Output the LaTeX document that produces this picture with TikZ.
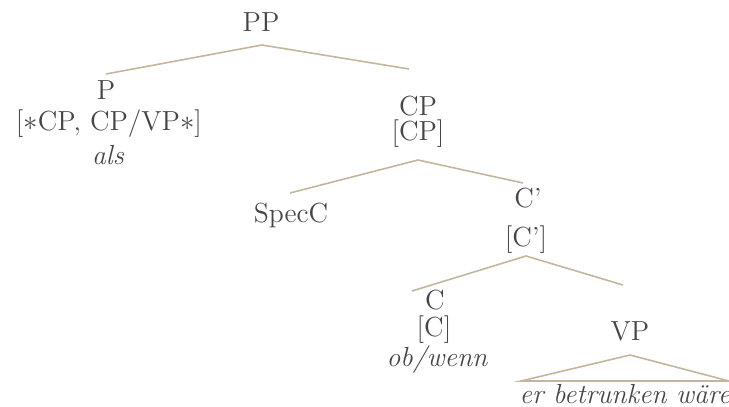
\documentclass[tikz,border=0pt]{standalone}
\usepackage{amsmath,amssymb}

\definecolor{branchcol}{RGB}{196,182,158}
\definecolor{labelcol}{RGB}{70,70,70}

\begin{document}
\begin{tikzpicture}[x=0.5pt,y=-0.5pt,
        lab/.style={text=labelcol,inner sep=1pt,font=\fontsize{13.8}{16}\selectfont},
        branch/.style={draw=branchcol,line width=0.8pt}]
        \useasboundingbox (0,0) rectangle (729,407);

            \node[lab] (pp) at (261,22) {PP};
            \coordinate (pptop) at (262,45);
            \coordinate (ppl) at (106,74);
            \coordinate (ppr) at (409,69);

            \node[lab] (p) at (106,90) {P};
            \node[lab] (psub) at (109,124) {[$\ast$CP, CP/VP$\ast$]};
            \node[lab] (pword) at (108,155) {\itshape als};

            \node[lab] (cp) at (418,106) {CP};
            \node[lab] (cpf) at (418,134) {[CP]};
            \coordinate (cptop) at (418,160);
            \coordinate (cpl) at (290,193);
            \coordinate (cpr) at (523,183);

            \node[lab] (spec) at (291,215) {SpecC};

            \node[lab] (cbar) at (528,198) {C'};
            \node[lab] (cbarf) at (526,240) {[C']};
            \coordinate (cbartop) at (526,256);
            \coordinate (cbarl) at (412,291);
            \coordinate (cbarr) at (623,285);

            \node[lab] (c) at (435,300) {C};
            \node[lab] (cf) at (434,330) {[C]};
            \node[lab] (cword) at (437,360) {\itshape ob/wenn};

            \node[lab] (vp) at (630,331) {VP};
            \coordinate (vptop) at (630,355);
            \coordinate (vpl) at (521,381);
            \coordinate (vpr) at (729,381);
            \node[lab] (vpword) at (625,394) {\itshape er betrunken w\"are};

            \draw[branch] (ppl) -- (pptop) -- (ppr);
            \draw[branch] (cpl) -- (cptop) -- (cpr);
            \draw[branch] (cbarl) -- (cbartop) -- (cbarr);
            \draw[branch] (vpl) -- (vptop) -- (vpr) -- cycle;

\end{tikzpicture}
\end{document}
